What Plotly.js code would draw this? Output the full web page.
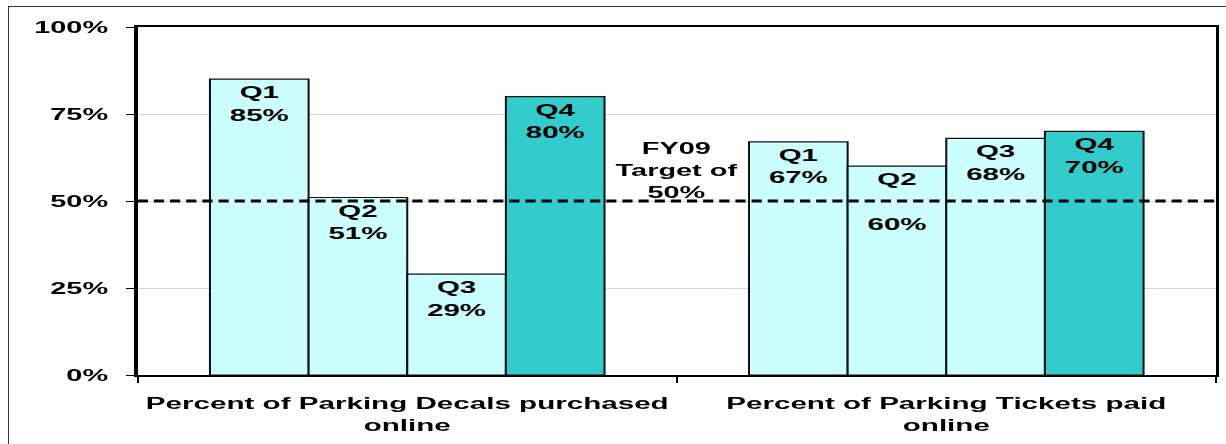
<!DOCTYPE html>
<html>
<head>
<meta charset="utf-8">
<script src="https://cdn.plot.ly/plotly-3.0.1.min.js"></script>
<style>
  html, body { margin: 0; padding: 0; background: #fff; overflow: hidden; width: 1226px; height: 444px; }
  #wrap { position: absolute; left: 0; top: 0; transform-origin: 0 0; }
  #frame { position: absolute; left: 8px; top: 6px; width: 1218px; height: 438px;
           border-left: 1.5px solid #333; border-top: 1.5px solid #333; pointer-events: none; }
</style>
</head>
<body>
<div id="frame"></div>
<div id="wrap"><div id="chart"></div></div>
<script>
// ---- data ----
const categories = ["Percent of Parking Decals purchased<br>online", "Percent of Parking Tickets paid<br>online"];
const quarters = ["Q1", "Q2", "Q3", "Q4"];
const q1Values = [85, 67];
const q2Values = [51, 60];
const q3Values = [29, 68];
const q4Values = [80, 70];
const q1Labels = ["Q1<br>85%", "Q1<br>67%"];
const q2Labels = ["Q2<br>51%", "Q2<br> <br>60%"];
const q3Labels = ["Q3<br>29%", "Q3<br>68%"];
const q4Labels = ["Q4<br>80%", "Q4<br>70%"];
const targetValue = 50;
const targetText = "FY09<br>Target of<br>50%";
const yTickVals = [0, 25, 50, 75, 100];
const yTickText = ["0%", "25%", "50%", "75%", "100%"];

// ---- styles ----
const FONT = "Liberation Sans, Arial, Helvetica, sans-serif";
const LIGHT = "#CCFFFF";
const DARK = "#33CCCC";
const OUT_W = 1226, OUT_H = 444;
const W = 721;                 // drawn width, stretched horizontally to OUT_W
const SX = OUT_W / W;

const values = [q1Values, q2Values, q3Values, q4Values];
const labels = [q1Labels, q2Labels, q3Labels, q4Labels];
const fills = [LIGHT, LIGHT, LIGHT, DARK];

const traces = quarters.map((q, i) => ({
  type: "bar",
  name: q,
  x: categories,
  y: values[i],
  text: labels[i],
  textposition: "inside",
  insidetextanchor: "end",
  constraintext: "none",
  textangle: 0,
  textfont: { family: FONT, size: 17.3, color: "#000", weight: "bold" },
  marker: { color: fills[i], line: { color: "#111", width: 1.2 } },
  hoverinfo: "none"
}));

const layout = {
  width: W,
  height: OUT_H,
  margin: { l: 137 / SX, r: W - 1216 / SX, t: 27, b: 69 },
  paper_bgcolor: "rgba(0,0,0,0)",
  plot_bgcolor: "#fff",
  barmode: "group",
  bargap: 0.268,
  bargroupgap: 0,
  showlegend: false,
  font: { family: FONT, color: "#000" },
  xaxis: {
    type: "category",
    showline: true, mirror: true, linecolor: "#000", linewidth: 2,
    ticks: "outside", tickson: "boundaries", ticklen: 6, tickcolor: "#000", tickwidth: 1,
    ticklabelstandoff: 11,
    tickfont: { family: FONT, size: 17.4, color: "#000", weight: "bold" },
    showgrid: false, zeroline: false, fixedrange: true
  },
  yaxis: {
    range: [0, 100],
    tickvals: yTickVals,
    ticktext: yTickText,
    showline: true, mirror: true, linecolor: "#000", linewidth: 2,
    ticks: "outside", ticklen: 5, tickcolor: "#000", tickwidth: 1,
    ticklabelstandoff: 7,
    tickfont: { family: FONT, size: 17, color: "#000", weight: "bold" },
    showgrid: true, gridcolor: "#d6d6d6", gridwidth: 1,
    zeroline: false, fixedrange: true
  },
  shapes: [{
    type: "line", xref: "paper", yref: "y",
    x0: 0, x1: 1, y0: targetValue, y1: targetValue,
    line: { color: "#000", width: 3, dash: "6px,3.5px" },
    layer: "above"
  }],
  annotations: [{
    xref: "paper", yref: "y", x: 0.5, y: targetValue,
    xanchor: "center", yanchor: "bottom", yshift: -3,
    text: targetText, showarrow: false, align: "center",
    font: { family: FONT, size: 17, color: "#000", weight: "bold" }
  }]
};

document.getElementById("wrap").style.transform = "scale(" + SX + ",1)";
Plotly.newPlot("chart", traces, layout, { staticPlot: true, displayModeBar: false });
</script>
</body>
</html>
